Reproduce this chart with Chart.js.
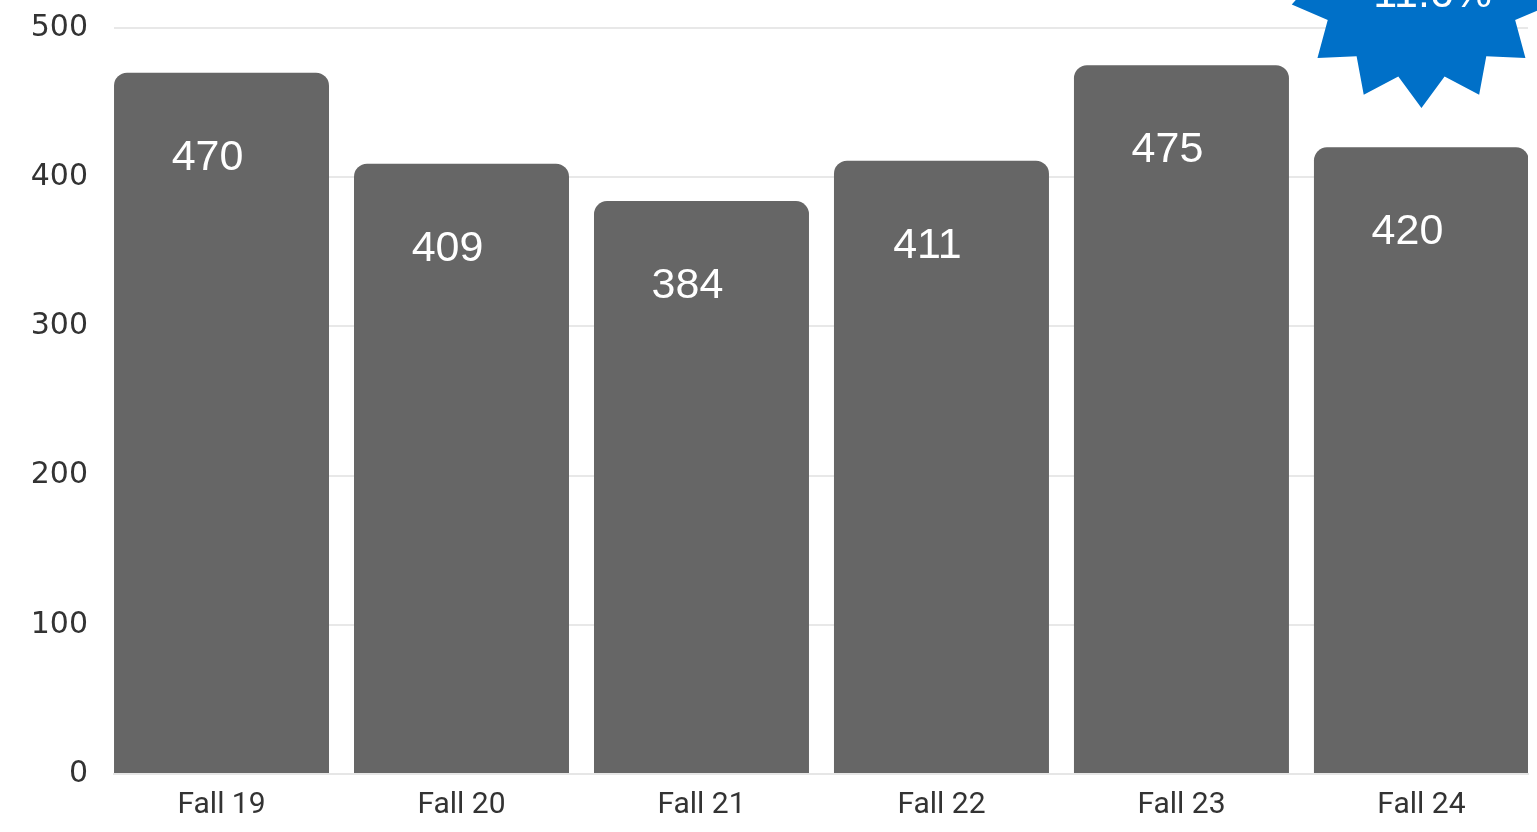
<!DOCTYPE html>
<html>
<head>
<meta charset="utf-8">
<title>Fall enrollment</title>
<script src="https://cdn.jsdelivr.net/npm/chart.js@4/dist/chart.umd.min.js"></script>
<style>
  html, body { margin: 0; padding: 0; background: #fff; overflow: hidden; }
  canvas { display: block; }
</style>
</head>
<body>
<canvas id="myChart" width="1537" height="832"></canvas>
<script>
// enrollment by term
var terms = ['Fall 19', 'Fall 20', 'Fall 21', 'Fall 22', 'Fall 23', 'Fall 24'];
var counts = [470, 409, 384, 411, 475, 420];
var yTicks = [0, 100, 200, 300, 400, 500];

// change from last year, shown in the burst
var last = counts[counts.length - 1];
var prev = counts[counts.length - 2];
var change = ((last - prev) / prev * 100).toFixed(1) + '%';

// bars sit on a linear x so the first one starts flush with the plot edge
var points = counts.map(function(v, i) { return { x: i, y: v }; });

// white number inside each bar, a bit below the top
var barValues = {
    id: 'barValues',
    afterDatasetsDraw: function(chart) {
        var ctx = chart.ctx;
        var meta = chart.getDatasetMeta(0);
        ctx.save();
        ctx.fillStyle = '#fff';
        ctx.font = '43px "Liberation Sans", Arial, sans-serif';
        ctx.textAlign = 'center';
        ctx.textBaseline = 'middle';
        meta.data.forEach(function(bar, i) {
            ctx.fillText(String(counts[i]), bar.x - 14, bar.y + 85);
        });
        ctx.restore();
    }
};

// blue starburst over the last bar
var burst = {
    id: 'burst',
    afterDraw: function(chart) {
        var ctx = chart.ctx;
        var meta = chart.getDatasetMeta(0);
        var bar = meta.data[meta.data.length - 1];
        var cx = bar.x, cy = -25;
        var outer = 133, inner = 104, n = 14;
        ctx.save();
        ctx.beginPath();
        for (var k = 0; k < n * 2; k++) {
            var a = Math.PI / 2 + k * Math.PI / n;
            var r = k % 2 === 0 ? outer : inner;
            var px = cx + r * Math.cos(a), py = cy + r * Math.sin(a);
            if (k === 0) ctx.moveTo(px, py); else ctx.lineTo(px, py);
        }
        ctx.closePath();
        ctx.fillStyle = '#0070c8';
        ctx.fill();
        ctx.fillStyle = '#fff';
        ctx.font = '43px "Liberation Sans", Arial, sans-serif';
        ctx.textAlign = 'center';
        ctx.textBaseline = 'alphabetic';
        ctx.fillText(change, cx + 4, 7);
        ctx.restore();
    }
};

var ctx = document.getElementById('myChart').getContext('2d');
var chart = new Chart(ctx, {
    type: 'bar',
    data: {
        datasets: [{
            data: points,
            backgroundColor: '#666666',
            borderRadius: { topLeft: 13, topRight: 13 },
            borderSkipped: 'bottom',
            barPercentage: 215 / 240,
            categoryPercentage: 1
        }]
    },
    options: {
        responsive: false,
        animation: false,
        devicePixelRatio: 1,
        layout: { padding: { top: 28, right: 9, left: 0, bottom: 0 } },
        plugins: {
            legend: { display: false },
            tooltip: { enabled: false }
        },
        scales: {
            x: {
                type: 'linear',
                offset: false,
                bounds: 'data',
                min: -0.448,
                max: 5.444,
                afterBuildTicks: function(scale) {
                    scale.ticks = terms.map(function(t, i) { return { value: i }; });
                },
                grid: { display: false, drawTicks: false },
                border: { display: true, color: '#e6e6e6', width: 2 },
                ticks: {
                    color: '#333',
                    padding: 13,
                    maxRotation: 0,
                    autoSkip: false,
                    font: { family: 'Roboto', size: 30 },
                    callback: function(v) { return terms[v]; }
                },
                afterFit: function(scale) {
                    scale.height = 58;
                    scale.paddingLeft = 0;
                    scale.paddingRight = 0;
                }
            },
            y: {
                min: yTicks[0],
                max: yTicks[yTicks.length - 1],
                afterBuildTicks: function(scale) {
                    scale.ticks = yTicks.map(function(v) { return { value: v }; });
                },
                grid: { color: '#e8e8e8', lineWidth: 2, drawTicks: false },
                border: { display: false },
                ticks: {
                    color: '#333',
                    padding: 26,
                    autoSkip: false,
                    font: { family: 'DejaVu Sans', size: 30 }
                },
                afterFit: function(scale) {
                    scale.width = 114;
                    scale.paddingTop = 0;
                    scale.paddingBottom = 0;
                }
            }
        }
    },
    plugins: [barValues, burst]
});
</script>
</body>
</html>
